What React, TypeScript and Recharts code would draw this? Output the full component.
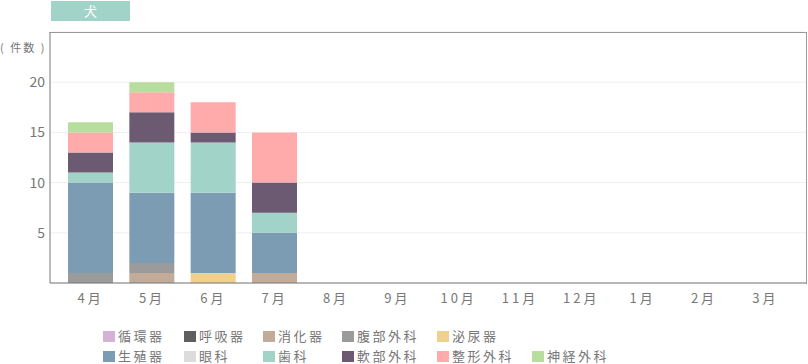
import React from 'react'
import { BarChart, Bar, XAxis, YAxis, CartesianGrid } from 'recharts'

const months = ['4月', '5月', '6月', '7月', '8月', '9月', '10月', '11月', '12月', '1月', '2月', '3月']

// counts per month (Apr..Mar), bottom of stack first
const junkanki = [0, 0, 0, 0, 0, 0, 0, 0, 0, 0, 0, 0]
const kokyuki = [0, 0, 0, 0, 0, 0, 0, 0, 0, 0, 0, 0]
const shokaki = [0, 1, 0, 1, 0, 0, 0, 0, 0, 0, 0, 0]
const fukubu = [1, 1, 0, 0, 0, 0, 0, 0, 0, 0, 0, 0]
const hinyoki = [0, 0, 1, 0, 0, 0, 0, 0, 0, 0, 0, 0]
const seishokuki = [9, 7, 8, 4, 0, 0, 0, 0, 0, 0, 0, 0]
const ganka = [0, 0, 0, 0, 0, 0, 0, 0, 0, 0, 0, 0]
const shika = [1, 5, 5, 2, 0, 0, 0, 0, 0, 0, 0, 0]
const nanbu = [2, 3, 1, 3, 0, 0, 0, 0, 0, 0, 0, 0]
const seikei = [2, 2, 3, 5, 0, 0, 0, 0, 0, 0, 0, 0]
const shinkei = [1, 1, 0, 0, 0, 0, 0, 0, 0, 0, 0, 0]

const yTicks = [5, 10, 15, 20]

const series = [
  { key: 'junkanki', name: '循環器', color: '#d4b1d6', values: junkanki },
  { key: 'kokyuki', name: '呼吸器', color: '#5f5f5f', values: kokyuki },
  { key: 'shokaki', name: '消化器', color: '#c2ab98', values: shokaki },
  { key: 'fukubu', name: '腹部外科', color: '#9b9b9b', values: fukubu },
  { key: 'hinyoki', name: '泌尿器', color: '#efd08f', values: hinyoki },
  { key: 'seishokuki', name: '生殖器', color: '#7b9cb2', values: seishokuki },
  { key: 'ganka', name: '眼科', color: '#dcdcdc', values: ganka },
  { key: 'shika', name: '歯科', color: '#a1d3c9', values: shika },
  { key: 'nanbu', name: '軟部外科', color: '#6c5a72', values: nanbu },
  { key: 'seikei', name: '整形外科', color: '#ffabab', values: seikei },
  { key: 'shinkei', name: '神経外科', color: '#b8de9e', values: shinkei },
]

const data = months.map((m, i) => {
  const row: Record<string, string | number> = { month: m }
  series.forEach(s => { row[s.key] = s.values[i] })
  return row
})

const font = '"Noto Sans CJK JP", "Noto Sans", sans-serif'
const textGray = '#777'

const legendCols = [81, 79, 79, 95, 95, 95]

function Legend() {
  const rows = [series.slice(0, 5), series.slice(5)]
  return (
    <div style={{ position: 'absolute', left: 103, top: 326, fontFamily: font }}>
      {rows.map((row, ri) => (
        <div key={ri} style={{ display: 'flex', height: 20 }}>
          {row.map((s, ci) => (
            <div key={s.key} style={{ width: legendCols[ci], display: 'flex', alignItems: 'center' }}>
              <span style={{ width: 12, height: 11, background: s.color, display: 'inline-block', marginRight: 3 }} />
              <span style={{ fontSize: 13, color: textGray, letterSpacing: 2.5, lineHeight: '14px' }}>{s.name}</span>
            </div>
          ))}
        </div>
      ))}
    </div>
  )
}

export default function App() {
  return (
    <div style={{ position: 'absolute', left: 0, top: 0, width: 808, height: 364, background: '#fff', fontFamily: font }}>
      <div style={{
        position: 'absolute', left: 51, top: 1, width: 79, height: 20, background: '#a1d3c9',
        color: '#fff', fontSize: 13, lineHeight: '20px', textAlign: 'center',
      }}>犬</div>
      <div style={{ position: 'absolute', left: 0, top: 39, fontSize: 11, color: textGray, letterSpacing: 2, whiteSpace: 'pre' }}>
        ( 件数 )
      </div>
      <BarChart width={808} height={364} data={data} margin={{ top: 32, right: 2, left: 0, bottom: 51 }}>
        <CartesianGrid stroke="#efefef" vertical={false} />
        <XAxis
          dataKey="month"
          padding={{ left: 10, right: 10 }}
          axisLine={{ stroke: '#777' }}
          tickLine={false}
          tickSize={0}
          tickMargin={11}
          interval={0}
          height={30}
          tick={{ fontSize: 13, fill: textGray, fontFamily: font, letterSpacing: 3 }}
        />
        <YAxis
          domain={[0, 25]}
          ticks={yTicks}
          width={50}
          axisLine={{ stroke: '#777' }}
          tickLine={false}
          tickSize={0}
          tickMargin={5}
          tick={{ fontSize: 14, fill: textGray, fontFamily: font }}
        />
        {series.map(s => (
          <Bar key={s.key} dataKey={s.key} name={s.name} stackId="a" fill={s.color} barSize={45} isAnimationActive={false} />
        ))}
      </BarChart>
      <div style={{
        position: 'absolute', left: 49, top: 32, width: 757, height: 251,
        borderTop: '1px solid #999', borderRight: '1px solid #999', pointerEvents: 'none',
      }} />
      <Legend />
    </div>
  )
}
